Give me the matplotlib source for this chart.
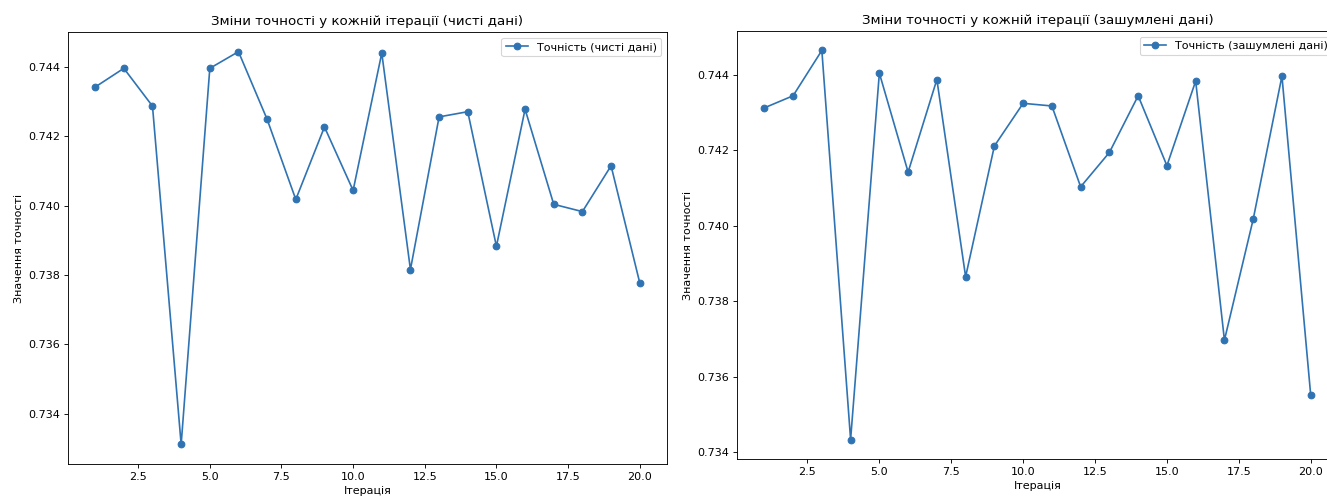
import matplotlib
matplotlib.use("Agg")
import matplotlib.pyplot as plt

iterations = list(range(1, 21))
acc_clean = [0.74342, 0.74396, 0.74287, 0.73312, 0.74396, 0.74444, 0.74249, 0.74018, 0.74227, 0.74044,
             0.74440, 0.73816, 0.74256, 0.74271, 0.73883, 0.74278, 0.74004, 0.73983, 0.74115, 0.73778]
acc_noisy = [0.74312, 0.74344, 0.74464, 0.73434, 0.74404, 0.74142, 0.74387, 0.73865, 0.74211, 0.74324,
             0.74317, 0.74103, 0.74194, 0.74344, 0.74159, 0.74383, 0.73697, 0.74017, 0.74396, 0.73552]

line_color = '#2f73b3'

fig = plt.figure(figsize=(1327 / 80, 499 / 80), dpi=80)
ax1 = fig.add_axes([0.0512, 0.0701, 0.4514, 0.8657])
# right panel runs a little past the figure edge
ax2 = fig.add_axes([0.5554, 0.0802, 0.4529, 0.8577])

ax1.plot(iterations, acc_clean, marker='o', color=line_color, label='Точність (чисті дані)')
ax1.set_title('Зміни точності у кожній ітерації (чисті дані)')
ax1.set_xlabel('Ітерація')
ax1.set_ylabel('Значення точності')
ax1.legend(loc='upper right')

ax2.plot(iterations, acc_noisy, marker='o', color=line_color, label='Точність (зашумлені дані)')
ax2.set_title('Зміни точності у кожній ітерації (зашумлені дані)')
ax2.set_xlabel('Ітерація')
ax2.set_ylabel('Значення точності')
ax2.legend(loc='upper right')

fig.savefig('out.png', dpi=80)
